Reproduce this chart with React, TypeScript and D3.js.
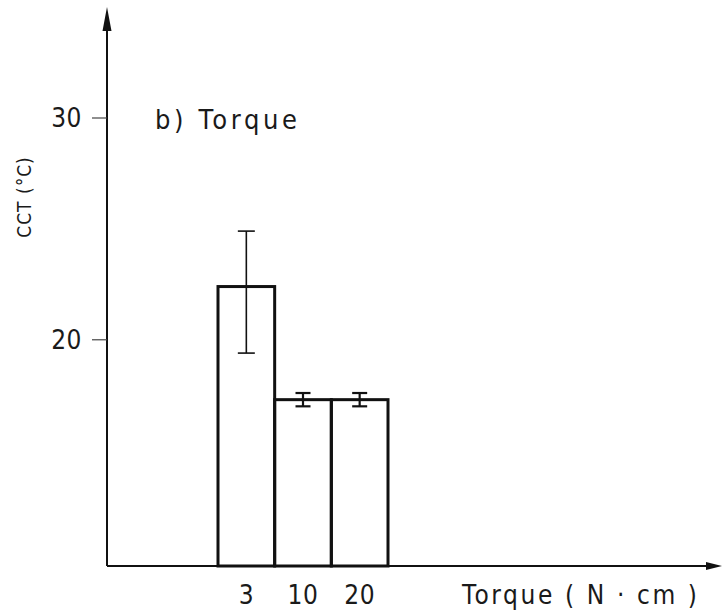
import React from "react";
import * as d3 from "d3";

const categories = ["3", "10", "20"];
const meanValues = [22.4, 17.3, 17.3];
const errLow = [19.4, 17.0, 17.0];
const errHigh = [24.9, 17.6, 17.6];
const yTicks = [20, 30];
const yLabel = "CCT (°C)";
const xLabel = "Torque ( N · cm )";
const panelTitle = "b) Torque";

const W = 724;
const H = 614;
const FONT = "'Liberation Sans Narrow', 'DejaVu Sans Condensed', 'Liberation Sans', sans-serif";

export default function App() {
  const y = d3.scaleLinear().domain([9.8, 30]).range([566, 118]);
  const x = d3.scaleBand<string>().domain(categories).range([218, 388]).padding(0);
  const axisX = 107;
  const baseY = y(9.8);
  const topY = y(35);
  const rightX = 722;

  return (
    <svg width={W} height={H} style={{ position: "absolute", left: 0, top: 0, background: "#fff" }}>
      <rect width={W} height={H} fill="#fff" />
      {/* y axis */}
      <line x1={axisX} y1={baseY} x2={axisX} y2={topY + 20} stroke="#111" strokeWidth={2} />
      <path d={`M${axisX},${topY} L${axisX - 4.5},${topY + 24} L${axisX + 4.5},${topY + 24} Z`} fill="#111" />
      {/* x axis */}
      <line x1={axisX} y1={baseY} x2={rightX - 14} y2={baseY} stroke="#111" strokeWidth={2} />
      <path d={`M${rightX},${baseY} L${rightX - 16},${baseY - 4} L${rightX - 16},${baseY + 4} Z`} fill="#111" />
      {/* y ticks */}
      {yTicks.map((t) => (
        <g key={t}>
          <line x1={axisX - 15} x2={axisX} y1={y(t)} y2={y(t)} stroke="#444" strokeWidth={1.2} />
          <text x={axisX - 25} y={y(t)} dy="0.36em" textAnchor="end" fontFamily={FONT} fontSize={26} fill="#1a1a1a" letterSpacing={0.5}>
            {t}
          </text>
        </g>
      ))}
      {/* bars */}
      {categories.map((c, i) => (
        <rect key={c} x={x(c)!} y={y(meanValues[i])} width={x.bandwidth()} height={baseY - y(meanValues[i])}
          fill="none" stroke="#111" strokeWidth={3} />
      ))}
      {/* error bars */}
      {categories.map((c, i) => {
        const cx = x(c)! + x.bandwidth() / 2;
        const cap = i === 0 ? 8.5 : 7.5;
        const sw = i === 0 ? 1.6 : 2.2;
        return (
          <g key={"e" + c} stroke="#111" strokeWidth={sw}>
            <line x1={cx} x2={cx} y1={y(errLow[i])} y2={y(errHigh[i])} />
            <line x1={cx - cap} x2={cx + cap} y1={y(errLow[i])} y2={y(errLow[i])} />
            <line x1={cx - cap} x2={cx + cap} y1={y(errHigh[i])} y2={y(errHigh[i])} />
          </g>
        );
      })}
      {/* category labels */}
      {categories.map((c) => (
        <text key={"l" + c} x={x(c)! + x.bandwidth() / 2} y={604} textAnchor="middle" fontFamily={FONT} fontSize={26} fill="#1a1a1a" letterSpacing={0.5}>
          {c}
        </text>
      ))}
      {/* x axis title */}
      <text x={462} y={604} fontFamily={FONT} fontSize={26} fill="#1a1a1a" textLength={235} lengthAdjust="spacing">
        {xLabel}
      </text>
      {/* panel title */}
      <text x={155} y={129} fontFamily={FONT} fontSize={27} fill="#1a1a1a" textLength={142} lengthAdjust="spacing">
        {panelTitle}
      </text>
      {/* y label */}
      <text transform={`translate(31,${197}) rotate(-90)`} textAnchor="middle" fontFamily={FONT} fontSize={19} fill="#1a1a1a" letterSpacing={1}>
        {yLabel}
      </text>
    </svg>
  );
}
